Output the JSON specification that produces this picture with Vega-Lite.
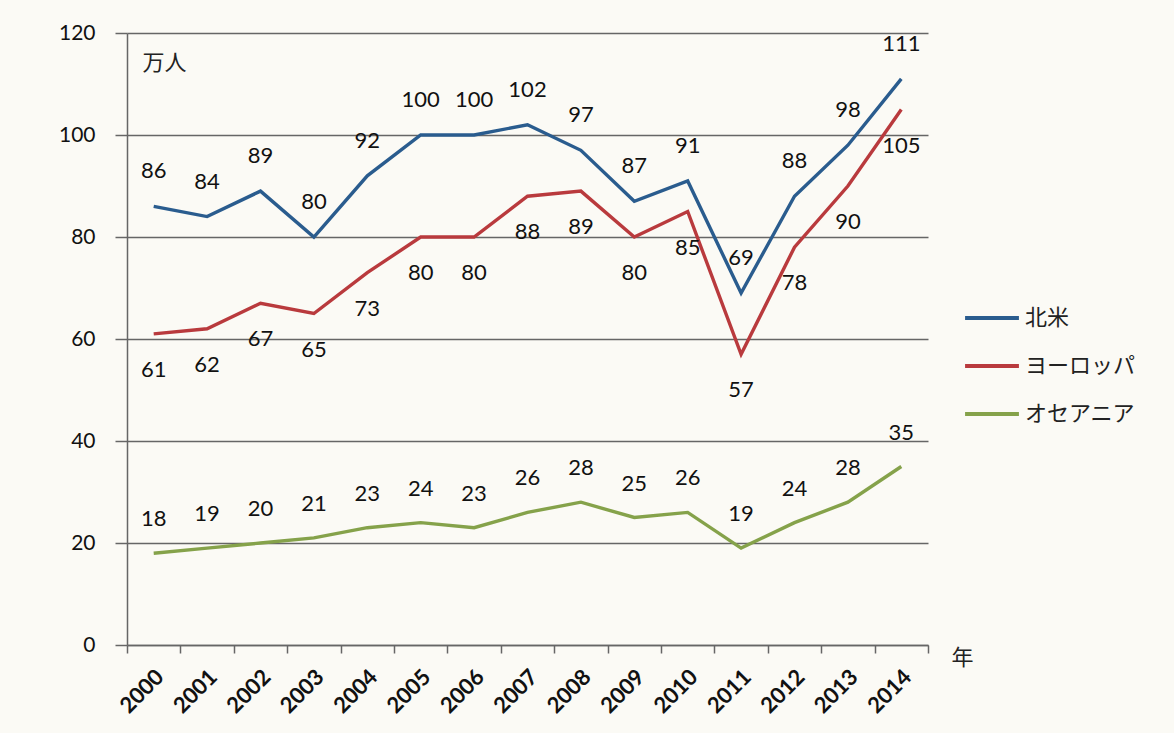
{
  "$schema": "https://vega.github.io/schema/vega-lite/v6.json",
  "autosize": {"type": "none"},
  "width": 801,
  "height": 612,
  "padding": {"left": 127, "top": 33, "right": 246, "bottom": 88},
  "background": "#fbfaf5",
  "config": {
    "view": {"stroke": null},
    "font": "Lato"
  },
  "data": {
    "values": [
      {"year": "2000", "region": "北米", "value": 86},
      {"year": "2001", "region": "北米", "value": 84},
      {"year": "2002", "region": "北米", "value": 89},
      {"year": "2003", "region": "北米", "value": 80},
      {"year": "2004", "region": "北米", "value": 92},
      {"year": "2005", "region": "北米", "value": 100},
      {"year": "2006", "region": "北米", "value": 100},
      {"year": "2007", "region": "北米", "value": 102},
      {"year": "2008", "region": "北米", "value": 97},
      {"year": "2009", "region": "北米", "value": 87},
      {"year": "2010", "region": "北米", "value": 91},
      {"year": "2011", "region": "北米", "value": 69},
      {"year": "2012", "region": "北米", "value": 88},
      {"year": "2013", "region": "北米", "value": 98},
      {"year": "2014", "region": "北米", "value": 111},
      {"year": "2000", "region": "ヨーロッパ", "value": 61},
      {"year": "2001", "region": "ヨーロッパ", "value": 62},
      {"year": "2002", "region": "ヨーロッパ", "value": 67},
      {"year": "2003", "region": "ヨーロッパ", "value": 65},
      {"year": "2004", "region": "ヨーロッパ", "value": 73},
      {"year": "2005", "region": "ヨーロッパ", "value": 80},
      {"year": "2006", "region": "ヨーロッパ", "value": 80},
      {"year": "2007", "region": "ヨーロッパ", "value": 88},
      {"year": "2008", "region": "ヨーロッパ", "value": 89},
      {"year": "2009", "region": "ヨーロッパ", "value": 80},
      {"year": "2010", "region": "ヨーロッパ", "value": 85},
      {"year": "2011", "region": "ヨーロッパ", "value": 57},
      {"year": "2012", "region": "ヨーロッパ", "value": 78},
      {"year": "2013", "region": "ヨーロッパ", "value": 90},
      {"year": "2014", "region": "ヨーロッパ", "value": 105},
      {"year": "2000", "region": "オセアニア", "value": 18},
      {"year": "2001", "region": "オセアニア", "value": 19},
      {"year": "2002", "region": "オセアニア", "value": 20},
      {"year": "2003", "region": "オセアニア", "value": 21},
      {"year": "2004", "region": "オセアニア", "value": 23},
      {"year": "2005", "region": "オセアニア", "value": 24},
      {"year": "2006", "region": "オセアニア", "value": 23},
      {"year": "2007", "region": "オセアニア", "value": 26},
      {"year": "2008", "region": "オセアニア", "value": 28},
      {"year": "2009", "region": "オセアニア", "value": 25},
      {"year": "2010", "region": "オセアニア", "value": 26},
      {"year": "2011", "region": "オセアニア", "value": 19},
      {"year": "2012", "region": "オセアニア", "value": 24},
      {"year": "2013", "region": "オセアニア", "value": 28},
      {"year": "2014", "region": "オセアニア", "value": 35}
    ]
  },
  "encoding": {
    "x": {
      "field": "year",
      "type": "ordinal",
      "scale": {"type": "band", "paddingInner": 0, "paddingOuter": 0},
      "axis": {
        "title": "年",
        "titleFont": "Noto Sans CJK JP",
        "titleFontSize": 22,
        "titleFontWeight": "normal",
        "titleColor": "#222",
        "titleX": 835,
        "titleY": 12,
        "titleAlign": "center",
        "titleBaseline": "middle",
        "tickBand": "extent",
        "labelAngle": -45,
        "labelAlign": "right",
        "labelBaseline": "middle",
        "labelFont": "Lato",
        "labelFontSize": 22,
        "labelFontWeight": "bold",
        "labelColor": "#111",
        "labelPadding": 20,
        "labelOffset": 6,
        "domainColor": "#666",
        "domainWidth": 1.5,
        "tickColor": "#666",
        "tickSize": 8,
        "tickWidth": 1.5,
        "grid": false
      }
    },
    "y": {
      "field": "value",
      "type": "quantitative",
      "scale": {"domain": [0, 120], "nice": false},
      "axis": {
        "values": [0, 20, 40, 60, 80, 100, 120],
        "title": "万人",
        "titleFont": "Noto Sans CJK JP",
        "titleFontSize": 22,
        "titleFontWeight": "normal",
        "titleColor": "#222",
        "titleAngle": 0,
        "titleX": 37,
        "titleY": 29,
        "titleAlign": "center",
        "titleBaseline": "middle",
        "labelFont": "Lato",
        "labelFontSize": 21,
        "labelColor": "#111",
        "labelPadding": 20,
        "domainColor": "#666",
        "domainWidth": 1.5,
        "tickColor": "#666",
        "tickSize": 12,
        "tickWidth": 1.5,
        "grid": true,
        "gridColor": "#666",
        "gridWidth": 1.5
      }
    }
  },
  "layer": [
    {
      "mark": {"type": "line", "strokeWidth": 3.4},
      "encoding": {
        "color": {
          "field": "region",
          "type": "nominal",
          "sort": ["北米", "ヨーロッパ", "オセアニア"],
          "scale": {
            "domain": ["北米", "ヨーロッパ", "オセアニア"],
            "range": ["#2a5c8e", "#b93a3d", "#85a24a"]
          },
          "legend": {
            "title": null,
            "orient": "none",
            "legendX": 836,
            "legendY": 256,
            "symbolType": "stroke",
            "symbolSize": 2900,
            "symbolStrokeWidth": 4,
            "labelFont": "Noto Sans CJK JP",
            "labelFontSize": 22,
            "labelColor": "#222",
            "labelOffset": 4,
            "rowPadding": 8
          }
        }
      }
    },
    {
      "transform": [{"filter": "datum.region === '北米'"}],
      "mark": {"type": "text", "dy": -35, "fontSize": 22, "font": "Lato", "color": "#111"},
      "encoding": {"text": {"field": "value", "type": "quantitative"}}
    },
    {
      "transform": [{"filter": "datum.region === 'ヨーロッパ'"}],
      "mark": {"type": "text", "dy": 36, "fontSize": 22, "font": "Lato", "color": "#111"},
      "encoding": {"text": {"field": "value", "type": "quantitative"}}
    },
    {
      "transform": [{"filter": "datum.region === 'オセアニア'"}],
      "mark": {"type": "text", "dy": -34, "fontSize": 22, "font": "Lato", "color": "#111"},
      "encoding": {"text": {"field": "value", "type": "quantitative"}}
    }
  ]
}
